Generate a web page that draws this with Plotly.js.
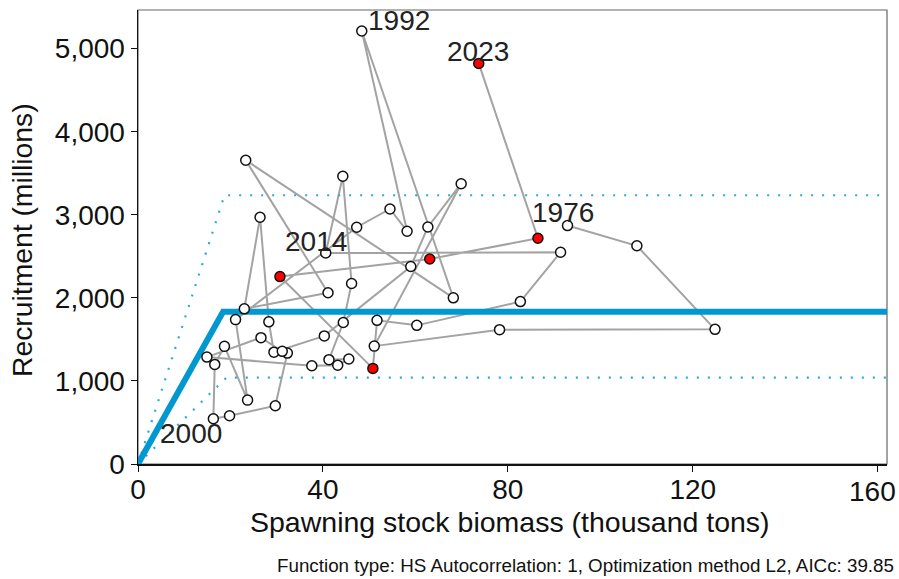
<!DOCTYPE html>
<html><head><meta charset="utf-8">
<script src="https://cdn.plot.ly/plotly-3.0.1.min.js"></script>
<style>html,body{margin:0;padding:0;background:#fff}#chart{width:899px;height:579px}</style>
</head><body><div id="chart"></div>
<script>
// Stock-recruitment data (SSB in thousand tons, recruitment in millions)
const years = [1976,1977,1978,1979,1980,1981,1982,1983,1984,1985,1986,1987,1988,1989,1990,1991,1992,1993,1994,1995,1996,1997,1998,1999,2000,2001,2002,2003,2004,2005,2006,2007,2008,2009,2010,2011,2012,2013,2014,2015,2016,2017,2018,2019,2020,2021,2022,2023];
const ssb = [92.9,107.9,124.8,78.2,51.1,69.9,62.7,59.0,40.3,29.4,28.3,26.4,23.0,41.1,23.3,68.2,48.4,58.2,54.5,47.3,21.1,23.7,18.7,16.6,16.3,19.8,29.7,32.3,31.2,26.6,14.9,37.6,43.2,45.6,41.3,44.4,46.2,44.3,40.6,91.4,82.7,60.3,51.7,50.8,30.7,63.1,86.5,73.7];
const recruit = [2870,2627,1621,1617,1419,3374,2853,2377,1542,1346,1711,2970,1868,2062,3657,2000,5212,2802,3070,2850,1738,769,1416,1199,545,581,701,1335,1356,1521,1287,1183,1189,1264,1256,1703,2173,3464,2540,2549,1955,1669,1729,1151,2256,2468,2717,4822];
const highlightYears = [2019,2020,2021,2022,2023];
const labelYears = [1976,1992,2000,2014,2023];

// Hockey-stick fit and its interval
const hsX = [0,18.4,162];
const hsY = [0,1833,1833];
const upX = [0,18.7,162];
const upY = [0,3235,3235];
const loX = [0,19.1,162];
const loY = [0,1039,1039];

const xTicks = [0,40,80,120,160];
const yTicks = [0,1000,2000,3000,4000,5000];
const xTitle = 'Spawning stock biomass (thousand tons)';
const yTitle = 'Recruitment (millions)';
const note = 'Function type: HS Autocorrelation: 1, Optimization method L2, AICc: 39.85';

const fillColors = years.map(y => highlightYears.includes(y) ? '#ff0000' : '#ffffff');

const labelShift = {1976:[-5,13],1992:[37,11],2000:[-22,-15],2014:[-10,11],2023:[-1,12]};
const FONT = 'Liberation Sans, Arial, sans-serif';

const traces = [
  {x: ssb, y: recruit, mode: 'lines', line: {color: '#a3a3a3', width: 2}, hoverinfo: 'skip'},
  {x: upX, y: upY, mode: 'lines', line: {color: '#2ba8de', width: 2.2, dash: '2px,9px'}},
  {x: loX, y: loY, mode: 'lines', line: {color: '#2ba8de', width: 2.2, dash: '2px,9px'}},
  {x: hsX, y: hsY, mode: 'lines', line: {color: '#0098cf', width: 6}},
  {x: ssb, y: recruit, mode: 'markers', text: years.map(String),
   marker: {size: 10, color: fillColors, line: {color: '#111', width: 1.5}}}
];

const annotations = labelYears.map(yr => {
  const i = years.indexOf(yr);
  return {x: ssb[i], y: recruit[i], text: String(yr), showarrow: false,
    xshift: labelShift[yr][0], yshift: labelShift[yr][1],
    font: {family: FONT, size: 28, color: '#222'}};
});
// last x tick label kept inside the picture
annotations.push({xref: 'paper', yref: 'paper', x: 1, y: 0, xanchor: 'right', yanchor: 'middle',
  xshift: 11, yshift: -27, text: String(xTicks[xTicks.length - 1]), showarrow: false,
  font: {family: FONT, size: 28, color: '#111'}});
annotations.push({xref: 'paper', yref: 'paper', x: 0.496, y: -0.1278, xanchor: 'center', yanchor: 'middle',
  text: xTitle, showarrow: false, font: {family: FONT, size: 28.5, color: '#111'}});
annotations.push({xref: 'paper', yref: 'paper', x: -0.1549, y: 0.4934, xanchor: 'center', yanchor: 'middle',
  text: yTitle, textangle: -90, showarrow: false, font: {family: FONT, size: 28.3, color: '#111'}});
annotations.push({xref: 'paper', yref: 'paper', x: 0.1835, y: -0.2225, xanchor: 'left', yanchor: 'middle',
  text: note, showarrow: false, font: {family: FONT, size: 18.8, color: '#111'}});

const layout = {
  width: 899, height: 579,
  margin: {l: 138, r: 12, t: 10, b: 115},
  paper_bgcolor: '#fff', plot_bgcolor: '#fff',
  showlegend: false,
  font: {family: FONT, color: '#111'},
  separators: '.,',
  xaxis: {range: [0, 162], tickvals: xTicks, ticktext: xTicks.map((v, i) => i === xTicks.length - 1 ? '' : String(v)),
    showgrid: false, zeroline: false,
    showline: true, linecolor: '#111', linewidth: 1.5, ticks: 'outside', ticklen: 6, tickcolor: '#111',
    ticklabelstandoff: -6, tickfont: {size: 28}},
  yaxis: {range: [0, 5465], tickvals: yTicks, tickformat: ',d', showgrid: false, zeroline: false,
    showline: true, linecolor: '#111', linewidth: 1.5, ticks: 'outside', ticklen: 6, tickcolor: '#111',
    tickfont: {size: 28}},
  shapes: [{type: 'rect', xref: 'paper', yref: 'paper', x0: 0, x1: 1, y0: 0, y1: 1, layer: 'below',
    line: {color: '#666', width: 1.2}}],
  annotations: annotations
};

Plotly.newPlot('chart', traces, layout, {displayModeBar: false, staticPlot: true});
</script>
</body></html>
